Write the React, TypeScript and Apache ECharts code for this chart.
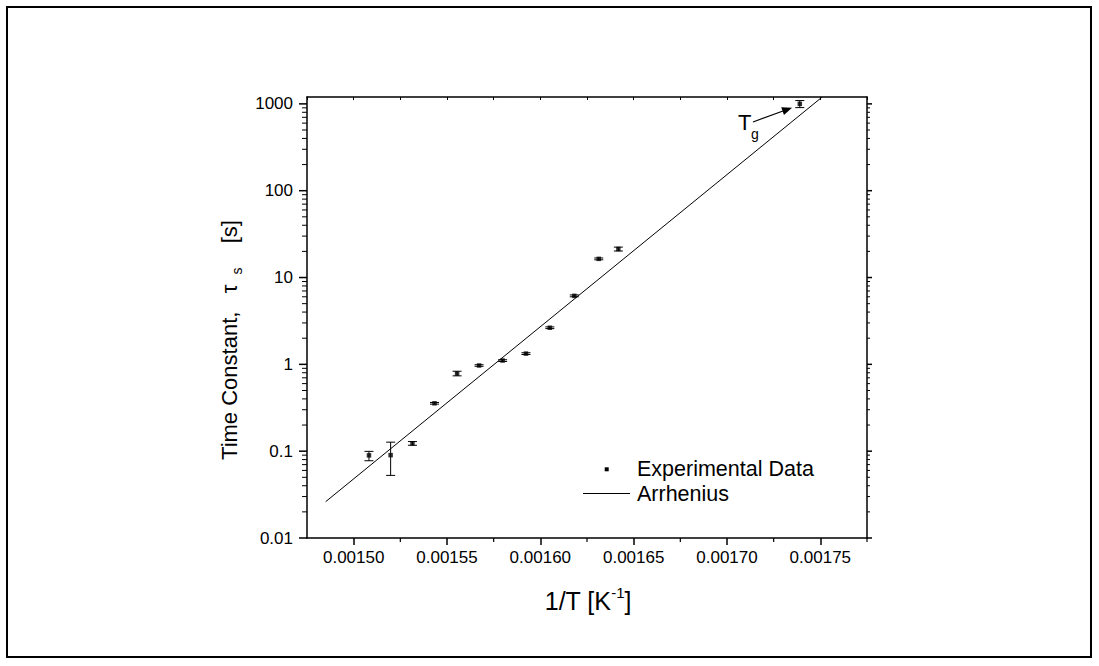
import React, { useEffect, useRef } from 'react';
import * as echarts from 'echarts';

// ---- data ----
const invT = [0.0015082, 0.0015198, 0.0015315, 0.0015433, 0.0015554, 0.0015672, 0.0015798, 0.0015923, 0.0016051, 0.0016182, 0.0016313, 0.0016418, 0.001739];
const tau = [0.0895, 0.090, 0.123, 0.356, 0.784, 0.97, 1.107, 1.33, 2.64, 6.15, 16.4, 21.3, 1000];
const tauLow = [0.0776, 0.0526, 0.117, 0.348, 0.737, 0.95, 1.08, 1.30, 2.58, 6.0, 16.0, 20.2, 906];
const tauHigh = [0.0995, 0.127, 0.129, 0.364, 0.833, 0.99, 1.13, 1.36, 2.70, 6.3, 16.8, 22.4, 1092];

const fitX = [0.001485, 0.001751];
const fitY = [0.0262, 1200];

const X_MIN = 0.001475;
const X_MAX = 0.001775;
const Y_MIN = 0.01;
const Y_MAX = 1200;

const xMajorTicks = [0.0015, 0.00155, 0.0016, 0.00165, 0.0017, 0.00175];
const xMinorTicks = [0.001525, 0.001575, 0.001625, 0.001675, 0.001725, 0.001775];
const yMajorTicks = [0.01, 0.1, 1, 10, 100, 1000];
const yMinorTicks = [
  0.02, 0.03, 0.04, 0.05, 0.06, 0.07, 0.08, 0.09,
  0.2, 0.3, 0.4, 0.5, 0.6, 0.7, 0.8, 0.9,
  2, 3, 4, 5, 6, 7, 8, 9,
  20, 30, 40, 50, 60, 70, 80, 90,
  200, 300, 400, 500, 600, 700, 800, 900,
];

const FONT = 'Liberation Sans, Arial, sans-serif';
const BLACK = '#000';

export default function App() {
  const ref = useRef<HTMLDivElement>(null);

  useEffect(() => {
    if (!ref.current) return;
    const chart = echarts.init(ref.current, null, { renderer: 'svg' });

    const axisLineStyle = { color: BLACK, width: 1.5 };

    const option: any = {
      animation: false,
      backgroundColor: '#fff',
      textStyle: { fontFamily: FONT, color: BLACK },
      grid: { left: 307, top: 97, width: 560, height: 441, show: false },
      xAxis: [
        {
          type: 'value',
          position: 'bottom',
          min: X_MIN,
          max: X_MAX,
          axisLine: { show: true, onZero: false, lineStyle: axisLineStyle },
          axisTick: { show: true, customValues: xMajorTicks, length: 7, lineStyle: axisLineStyle },
          axisLabel: {
            customValues: xMajorTicks,
            formatter: (v: number) => v.toFixed(5),
            fontSize: 17,
            color: BLACK,
            fontFamily: FONT,
            margin: 11,
          },
          splitLine: { show: false },
        },
        {
          type: 'value',
          position: 'top',
          min: X_MIN,
          max: X_MAX,
          interval: 0.000025,
          axisLine: { show: true, onZero: false, lineStyle: axisLineStyle },
          axisTick: { show: true, inside: true, length: 3, lineStyle: { color: BLACK, width: 1 } },
          axisLabel: { show: false },
          splitLine: { show: false },
        },
      ],
      yAxis: [
        {
          type: 'log',
          position: 'left',
          min: Y_MIN,
          max: Y_MAX,
          axisLine: { show: true, onZero: false, lineStyle: axisLineStyle },
          axisTick: { show: false },
          minorTick: { show: false },
          axisLabel: {
            fontSize: 17,
            color: BLACK,
            fontFamily: FONT,
            margin: 14,
            formatter: (v: number) => {
              const l = Math.log10(v);
              const r = Math.round(l);
              if (Math.abs(l - r) > 1e-6) return '';
              const match = yMajorTicks.find((t) => Math.abs(Math.log10(t) - r) < 1e-6);
              return match === undefined ? '' : String(match);
            },
          },
          splitLine: { show: false },
        },
        {
          type: 'log',
          position: 'right',
          min: Y_MIN,
          max: Y_MAX,
          axisLine: { show: true, onZero: false, lineStyle: axisLineStyle },
          axisTick: { show: false },
          axisLabel: { show: false },
          splitLine: { show: false },
        },
      ],
      series: [
        {
          name: 'yTicks',
          type: 'custom',
          xAxisIndex: 0,
          yAxisIndex: 0,
          silent: true,
          clip: false,
          data: [
            ...yMajorTicks.map((v) => [v, 1]),
            ...yMinorTicks.map((v) => [v, 0]),
          ],
          renderItem: (params: any, api: any) => {
            const v = api.value(0);
            const major = api.value(1) === 1;
            const l = api.coord([X_MIN, v]);
            const r = api.coord([X_MAX, v]);
            const ll = major ? 8 : 5;
            const rl = major ? 5 : 3;
            const style = { stroke: BLACK, lineWidth: major ? 1.5 : 1 };
            return {
              type: 'group',
              children: [
                { type: 'line', shape: { x1: l[0] - ll, y1: l[1], x2: l[0], y2: l[1] }, style },
                { type: 'line', shape: { x1: r[0], y1: r[1], x2: r[0] + rl, y2: r[1] }, style },
              ],
            };
          },
          z: 5,
        },
        {
          name: 'xMinorTicks',
          type: 'custom',
          xAxisIndex: 0,
          yAxisIndex: 0,
          silent: true,
          clip: false,
          data: xMinorTicks.map((v) => [v]),
          renderItem: (params: any, api: any) => {
            const p = api.coord([api.value(0), Y_MIN]);
            return {
              type: 'line',
              shape: { x1: p[0], y1: p[1], x2: p[0], y2: p[1] + 4 },
              style: { stroke: BLACK, lineWidth: 1.2 },
            };
          },
          z: 5,
        },
        {
          name: 'Arrhenius',
          type: 'line',
          xAxisIndex: 0,
          yAxisIndex: 0,
          data: fitX.map((x, i) => [x, fitY[i]]),
          showSymbol: false,
          symbol: 'none',
          clip: true,
          lineStyle: { color: BLACK, width: 1 },
          itemStyle: { color: BLACK },
          z: 3,
        },
        {
          name: 'errorBars',
          type: 'custom',
          xAxisIndex: 0,
          yAxisIndex: 0,
          data: invT.map((x, i) => [x, tauLow[i], tauHigh[i]]),
          renderItem: (params: any, api: any) => {
            const x = api.value(0);
            const lo = api.coord([x, api.value(1)]);
            const hi = api.coord([x, api.value(2)]);
            const w = 4.5;
            const style = { stroke: BLACK, lineWidth: 1 };
            return {
              type: 'group',
              children: [
                { type: 'line', shape: { x1: lo[0], y1: lo[1], x2: hi[0], y2: hi[1] }, style },
                { type: 'line', shape: { x1: hi[0] - w, y1: hi[1], x2: hi[0] + w, y2: hi[1] }, style },
                { type: 'line', shape: { x1: lo[0] - w, y1: lo[1], x2: lo[0] + w, y2: lo[1] }, style },
              ],
            };
          },
          z: 4,
        },
        {
          name: 'Experimental Data',
          type: 'scatter',
          xAxisIndex: 0,
          yAxisIndex: 0,
          data: invT.map((x, i) => [x, tau[i]]),
          symbol: 'rect',
          symbolSize: 4.5,
          itemStyle: { color: BLACK },
          z: 6,
        },
      ],
      graphic: [
        // outer frame
        {
          type: 'rect',
          shape: { x: 7, y: 7, width: 1084, height: 650 },
          style: { fill: 'none', stroke: BLACK, lineWidth: 2 },
          silent: true,
        },
        // y axis title
        {
          type: 'text',
          x: 229,
          y: 340,
          rotation: Math.PI / 2,
          style: {
            text: '{m|Time Constant,   τ}{s|s}{m|   [s]}',
            align: 'center',
            verticalAlign: 'middle',
            fill: BLACK,
            rich: {
              m: { fontSize: 22, fontFamily: FONT, fill: BLACK, lineHeight: 30, verticalAlign: 'middle' },
              s: { fontSize: 14, fontFamily: FONT, fill: BLACK, lineHeight: 14, verticalAlign: 'bottom', padding: [0, 6, 0, 10] },
            },
          },
        },
        // x axis title
        {
          type: 'text',
          x: 588,
          y: 601,
          style: {
            text: '{m|1/T [K}{p|-1}{m|]}',
            align: 'center',
            verticalAlign: 'middle',
            fill: BLACK,
            rich: {
              m: { fontSize: 25, fontFamily: FONT, fill: BLACK, lineHeight: 32, verticalAlign: 'middle' },
              p: { fontSize: 15, fontFamily: FONT, fill: BLACK, lineHeight: 15, verticalAlign: 'top' },
            },
          },
        },
        // legend
        {
          type: 'rect',
          shape: { x: 604.7, y: 467.3, width: 4, height: 4 },
          style: { fill: BLACK },
        },
        {
          type: 'text',
          x: 637,
          y: 469,
          style: { text: 'Experimental Data', fontSize: 21.5, fontFamily: FONT, fill: BLACK, verticalAlign: 'middle', align: 'left' },
        },
        {
          type: 'line',
          shape: { x1: 583, y1: 493.5, x2: 630, y2: 493.5 },
          style: { stroke: BLACK, lineWidth: 1 },
        },
        {
          type: 'text',
          x: 637,
          y: 494,
          style: { text: 'Arrhenius', fontSize: 21.5, fontFamily: FONT, fill: BLACK, verticalAlign: 'middle', align: 'left' },
        },
        // T_g annotation
        {
          type: 'text',
          x: 738,
          y: 122,
          style: { text: 'T', fontSize: 22, fontFamily: FONT, fill: BLACK, verticalAlign: 'middle', align: 'left' },
        },
        {
          type: 'text',
          x: 751,
          y: 134,
          style: { text: 'g', fontSize: 14, fontFamily: FONT, fill: BLACK, verticalAlign: 'middle', align: 'left' },
        },
        {
          type: 'line',
          shape: { x1: 753, y1: 122, x2: 783, y2: 111 },
          style: { stroke: BLACK, lineWidth: 1.2 },
        },
        {
          type: 'polygon',
          shape: { points: [[792, 107.7], [784, 114.9], [781.2, 107.3]] },
          style: { fill: BLACK },
        },
      ],
    };

    chart.setOption(option);
    return () => chart.dispose();
  }, []);

  return (
    <div
      ref={ref}
      style={{ position: 'absolute', left: 0, top: 0, width: 1099, height: 666, background: '#fff' }}
    />
  );
}
